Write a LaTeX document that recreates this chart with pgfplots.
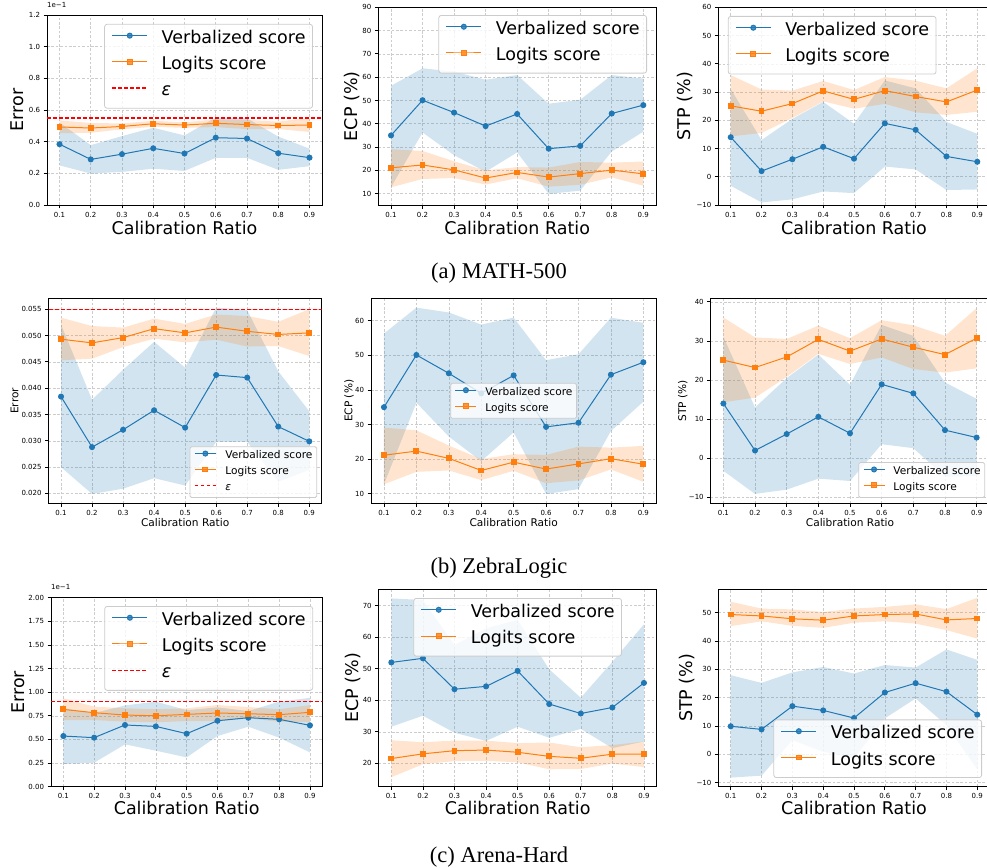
\documentclass[border=0pt]{standalone}
\usepackage{pgfplots}
\usepackage{pgfplotstable}
\usepackage{fontspec}
\pgfplotsset{compat=1.18}
\usepgfplotslibrary{fillbetween}
\setmainfont{DejaVu Sans}
\newfontfamily\capfont{Liberation Serif}

\definecolor{tabblue}{RGB}{31,119,180}
\definecolor{taborange}{RGB}{255,127,14}
\definecolor{epsred}{RGB}{255,0,0}

\newcommand{\bigf}{\fontsize{17.5}{21}\selectfont}
\newcommand{\smallf}{\fontsize{10.6}{12.7}\selectfont}
\newcommand{\tickf}{\fontsize{7}{8.4}\selectfont}

% columns: ratio, verbalized mean/low/high, logits mean/low/high
\pgfplotstableread{
x   vm     vl     vu     lm     ll     lu
0.1 0.0384 0.0250 0.0521 0.0493 0.0453 0.0534
0.2 0.0288 0.0199 0.0378 0.0486 0.0456 0.0518
0.3 0.0321 0.0209 0.0435 0.0496 0.0478 0.0515
0.4 0.0358 0.0229 0.0488 0.0513 0.0494 0.0532
0.5 0.0325 0.0215 0.0439 0.0505 0.0487 0.0522
0.6 0.0425 0.0298 0.0553 0.0516 0.0492 0.0540
0.7 0.0420 0.0298 0.0548 0.0508 0.0479 0.0537
0.8 0.0327 0.0222 0.0432 0.0502 0.0480 0.0526
0.9 0.0299 0.0245 0.0356 0.0505 0.0461 0.0550
}\matherr
\pgfplotstableread{
x   vm   vl   vu   lm   ll   lu
0.1 35.0 12.7 56.3 21.1 12.7 29.1
0.2 50.1 36.3 63.8 22.3 16.3 28.3
0.3 44.8 26.5 62.4 20.2 16.7 23.9
0.4 39.0 19.4 58.9 16.7 13.9 20.0
0.5 44.2 27.7 60.9 19.1 16.6 21.4
0.6 29.3 9.9  48.6 17.1 13.0 21.2
0.7 30.5 11.3 50.3 18.6 13.8 23.6
0.8 44.4 28.1 60.9 20.1 17.0 23.3
0.9 48.0 36.6 59.4 18.5 13.4 23.8
}\mathecp
\pgfplotstableread{
x   vm   vl   vu   lm   ll   lu
0.1 14.0 -3.2 31.1 25.1 14.3 36.0
0.2 2.0  -9.1 13.0 23.2 15.5 30.9
0.3 6.2  -8.0 20.5 25.9 20.8 30.5
0.4 10.6 -5.2 26.5 30.4 26.7 33.9
0.5 6.4  -5.8 18.8 27.4 24.1 30.7
0.6 18.9 3.6  34.1 30.5 25.8 35.3
0.7 16.6 2.6  31.3 28.4 22.8 34.0
0.8 7.2  -4.7 19.4 26.5 21.9 31.3
0.9 5.3  -4.5 15.2 30.7 23.0 38.4
}\mathstp
\pgfplotstableread{
x   vm     vl     vu     lm     ll     lu
0.1 0.0536 0.0240 0.0830 0.0818 0.0705 0.0935
0.2 0.0519 0.0254 0.0780 0.0783 0.0705 0.0847
0.3 0.0653 0.0448 0.0860 0.0758 0.0688 0.0830
0.4 0.0638 0.0381 0.0900 0.0751 0.0681 0.0820
0.5 0.0561 0.0310 0.0810 0.0765 0.0695 0.0830
0.6 0.0698 0.0536 0.0840 0.0780 0.0695 0.0864
0.7 0.0730 0.0635 0.0800 0.0772 0.0723 0.0843
0.8 0.0713 0.0519 0.0900 0.0762 0.0688 0.0820
0.9 0.0649 0.0363 0.0940 0.0787 0.0681 0.0864
}\arenaerr
\pgfplotstableread{
x   vm   vl   vu   lm   ll   lu
0.1 52.0 31.6 72.3 21.5 15.6 27.3
0.2 53.3 35.1 71.8 23.0 19.7 26.7
0.3 43.5 29.7 57.5 24.0 20.7 27.2
0.4 44.4 27.1 62.8 24.2 20.8 27.2
0.5 49.3 31.6 65.5 23.5 20.3 26.4
0.6 38.8 28.1 49.8 22.2 18.1 26.6
0.7 35.8 30.9 40.8 21.6 18.2 25.1
0.8 37.7 24.8 52.2 22.9 19.9 25.8
0.9 45.5 26.9 64.1 22.9 18.8 26.9
}\arenaecp
\pgfplotstableread{
x   vm   vl   vu   lm   ll   lu
0.1 9.9  -8.2 27.9 49.3 45.2 53.8
0.2 8.8  -7.5 25.2 48.8 46.9 51.4
0.3 17.0 5.0  28.9 47.8 45.3 51.1
0.4 15.5 0.9  30.8 47.3 44.6 50.2
0.5 12.8 -1.4 28.5 48.8 46.4 51.4
0.6 21.8 12.7 31.5 49.3 46.9 52.0
0.7 25.1 19.7 30.6 49.5 46.1 52.9
0.8 22.1 10.3 37.0 47.4 43.8 51.2
0.9 14.0 -5.3 33.3 47.9 40.8 55.2
}\arenastp

% shaded ranges first, then the two mean curves
\newcommand{\series}[1]{%
  \addplot[name path=vu, draw=none, forget plot] table[x=x,y=vu]{#1};
  \addplot[name path=vl, draw=none, forget plot] table[x=x,y=vl]{#1};
  \addplot[fill=tabblue, fill opacity=0.2, draw=none, forget plot] fill between[of=vu and vl];
  \addplot[name path=lu, draw=none, forget plot] table[x=x,y=lu]{#1};
  \addplot[name path=ll, draw=none, forget plot] table[x=x,y=ll]{#1};
  \addplot[fill=taborange, fill opacity=0.2, draw=none, forget plot] fill between[of=lu and ll];
  \addplot[color=tabblue, line width=1pt, mark=*, mark size=2.5pt] table[x=x,y=vm]{#1};
  \addplot[color=taborange, line width=1pt, mark=square*, mark size=2.4pt] table[x=x,y=lm]{#1};
}
% threshold line across the whole axis, built from short red dashes
\newcommand{\epsline}[1]{%
  \pgfplotsinvokeforeach{0,...,47}{%
    \draw[color=epsred, line width=1.3pt]
      ([xshift=##1*6pt]axis cs:0.06,#1) -- ([xshift=##1*6pt+4pt]axis cs:0.06,#1);
  }%
}
% legend samples for the threshold
\pgfplotsset{
  epsbig/.style={legend image code/.code={%
    \foreach \s in {0,6,12,18,24,30}{\draw[color=epsred, line width=1.3pt]
      (\s pt,4.4pt) -- (\s pt+4pt,4.4pt);}}},
  epssmall/.style={legend image code/.code={%
    \foreach \s in {0,6,12,18}{\draw[color=epsred, line width=1.2pt]
      (\s pt,2.65pt) -- (\s pt+3.5pt,2.65pt);}}},
}

\pgfplotsset{
  panel/.style={
    scale only axis, anchor=south west,
    xmin=0.06, xmax=0.94,
    xtick={0.1,0.2,0.3,0.4,0.5,0.6,0.7,0.8,0.9},
    xticklabels={0.1,0.2,0.3,0.4,0.5,0.6,0.7,0.8,0.9},
    scaled ticks=false,
    tick align=outside, tick pos=left,
    major tick length=3.5pt,
    every tick/.style={black, line width=0.8pt},
    axis line style={line width=0.8pt},
    grid=major,
    grid style={black!20, line width=0.55pt, dash pattern=on 2.6pt off 1.8pt},
    ticklabel style={font=\tickf},
    xlabel={Calibration Ratio},
    legend cell align=left,
  },
  offsetlabel/.style={title={1e−1},
    title style={at={(0,1)}, anchor=south west, font=\tickf, inner sep=0pt, yshift=1.5pt}},
  bigtxt/.style={label style={font=\bigf}},
  smalltxt/.style={label style={font=\smallf}},
  yl/.style={ylabel style={at={([xshift=#1]rel axis cs:0,0.5)}, anchor=center}},
  xl/.style={xlabel style={at={([yshift=#1]rel axis cs:0.5,0)}, anchor=center}},
  bigleg/.style={
    legend style={font=\bigf, draw=black!20, line width=0.8pt, rounded corners=2.5pt,
      fill=white, fill opacity=0.8, draw opacity=1, text opacity=1,
      inner xsep=7pt, inner ysep=2.6pt, column sep=14pt,
      nodes={inner sep=0pt, text height=16.3pt, text depth=9.95pt}},
    legend image code/.code={%
      \draw[mark repeat=2, mark phase=2, yshift=4.4pt, #1]
        plot coordinates {(0pt,0pt)(17.5pt,0pt)(35pt,0pt)};},
  },
  smallleg/.style={
    legend style={font=\smallf, draw=black!20, line width=0.8pt, rounded corners=1.5pt,
      fill=white, fill opacity=0.8, draw opacity=1, text opacity=1,
      inner xsep=4.2pt, inner ysep=1.6pt, column sep=8.4pt,
      nodes={inner sep=0pt, text height=10.6pt, text depth=5.3pt}},
    legend image code/.code={%
      \draw[mark repeat=2, mark phase=2, yshift=2.65pt, #1]
        plot coordinates {(0pt,0pt)(10.5pt,0pt)(21pt,0pt)};},
  },
}

\begin{document}
\begin{tikzpicture}

% ---------------- (a) MATH-500 ----------------
\begin{axis}[panel, bigtxt, bigleg, offsetlabel, at={(47pt,662pt)}, width=275pt, height=190pt,
  ymin=0, ymax=0.12,
  ytick={0,0.02,0.04,0.06,0.08,0.10,0.12},
  yticklabels={0.0,0.2,0.4,0.6,0.8,1.0,1.2},
  ylabel={Error}, yl=-30pt, xl=-23pt,
  legend style={at={(0.967,0.953)}, anchor=north east}]
\series{\matherr}
\epsline{0.055}
\addlegendimage{epsbig}
\legend{Verbalized score, Logits score, \textit{ε}}
\end{axis}

\begin{axis}[panel, bigtxt, bigleg, at={(378.4pt,661.7pt)}, width=277.5pt, height=198pt,
  ymin=5, ymax=90,
  ytick={10,20,30,40,50,60,70,80,90},
  yticklabels={10,20,30,40,50,60,70,80,90},
  ylabel={ECP (\%)}, yl=-26pt, xl=-23pt,
  legend style={at={(0.968,0.961)}, anchor=north east}]
\series{\mathecp}
\legend{Verbalized score, Logits score}
\end{axis}

\begin{axis}[panel, bigtxt, bigleg, at={(718.4pt,662pt)}, width=271.2pt, height=197.7pt,
  ymin=-10, ymax=60,
  ytick={-10,0,10,20,30,40,50,60},
  yticklabels={−10,0,10,20,30,40,50,60},
  ylabel={STP (\%)}, yl=-33pt, xl=-23pt,
  legend style={at={(0.035,0.956)}, anchor=north west}]
\series{\mathstp}
\legend{Verbalized score, Logits score}
\end{axis}

\node[font=\capfont\fontsize{22.5}{27}\selectfont, anchor=base] at (499pt,588pt) {(a) MATH-500};

% ---------------- (b) ZebraLogic ----------------
\begin{axis}[panel, smalltxt, smallleg, at={(48.6pt,363.7pt)}, width=273.1pt, height=205pt,
  ymin=0.01813, ymax=0.05707,
  ytick={0.020,0.025,0.030,0.035,0.040,0.045,0.050,0.055},
  yticklabels={0.020,0.025,0.030,0.035,0.040,0.045,0.050,0.055},
  ylabel={Error}, yl=-34pt, xl=-19pt,
  legend style={at={(0.983,0.026)}, anchor=south east}]
\series{\matherr}
\epsline{0.055}
\addlegendimage{epssmall}
\legend{Verbalized score, Logits score, \textit{ε}}
\end{axis}

\begin{axis}[panel, smalltxt, smallleg, at={(371pt,363.7pt)}, width=285.3pt, height=205pt,
  ymin=7.2, ymax=66.5,
  ytick={10,20,30,40,50,60},
  yticklabels={10,20,30,40,50,60},
  ylabel={ECP (\%)}, yl=-22pt, xl=-19pt,
  legend style={at={(0.5,0.5)}, anchor=center}]
\series{\mathecp}
\legend{Verbalized score, Logits score}
\end{axis}

\begin{axis}[panel, smalltxt, smallleg, at={(710.7pt,363.7pt)}, width=278.6pt, height=205pt,
  ymin=-11.5, ymax=40.9,
  ytick={-10,0,10,20,30,40},
  yticklabels={−10,0,10,20,30,40},
  ylabel={STP (\%)}, yl=-28pt, xl=-19pt,
  legend style={at={(0.985,0.026)}, anchor=south east}]
\series{\mathstp}
\legend{Verbalized score, Logits score}
\end{axis}

\node[font=\capfont\fontsize{22.5}{27}\selectfont, anchor=base] at (499pt,293pt) {(b) ZebraLogic};

% ---------------- (c) Arena-Hard ----------------
\begin{axis}[panel, bigtxt, bigleg, offsetlabel, at={(51pt,80.3pt)}, width=271.3pt, height=189pt,
  ymin=0, ymax=0.2,
  ytick={0,0.025,0.05,0.075,0.1,0.125,0.15,0.175,0.2},
  yticklabels={0.00,0.25,0.50,0.75,1.00,1.25,1.50,1.75,2.00},
  ylabel={Error}, yl=-33pt, xl=-21.5pt,
  legend style={at={(0.966,0.956)}, anchor=north east}]
\series{\arenaerr}
\epsline{0.09}
\addlegendimage{epsbig}
\legend{Verbalized score, Logits score, \textit{ε}}
\end{axis}

\begin{axis}[panel, bigtxt, bigleg, at={(378.7pt,81pt)}, width=277.9pt, height=196.4pt,
  ymin=12.8, ymax=75.1,
  ytick={20,30,40,50,60,70},
  yticklabels={20,30,40,50,60,70},
  ylabel={ECP (\%)}, yl=-26pt, xl=-21.5pt,
  legend style={at={(0.5,0.957)}, anchor=north}]
\series{\arenaecp}
\legend{Verbalized score, Logits score}
\end{axis}

\begin{axis}[panel, bigtxt, bigleg, at={(718.4pt,80.3pt)}, width=271.2pt, height=197.7pt,
  ymin=-11.4, ymax=58.3,
  ytick={-10,0,10,20,30,40,50},
  yticklabels={−10,0,10,20,30,40,50},
  ylabel={STP (\%)}, yl=-31pt, xl=-21.5pt,
  legend style={at={(0.972,0.044)}, anchor=south east}]
\series{\arenastp}
\legend{Verbalized score, Logits score}
\end{axis}

\node[font=\capfont\fontsize{22.5}{27}\selectfont, anchor=base] at (499pt,5pt) {(c) Arena-Hard};

% page covers exactly the figure area
\pgfresetboundingbox
\useasboundingbox (0pt,0pt) rectangle (987pt,867pt);
\end{tikzpicture}
\end{document}
